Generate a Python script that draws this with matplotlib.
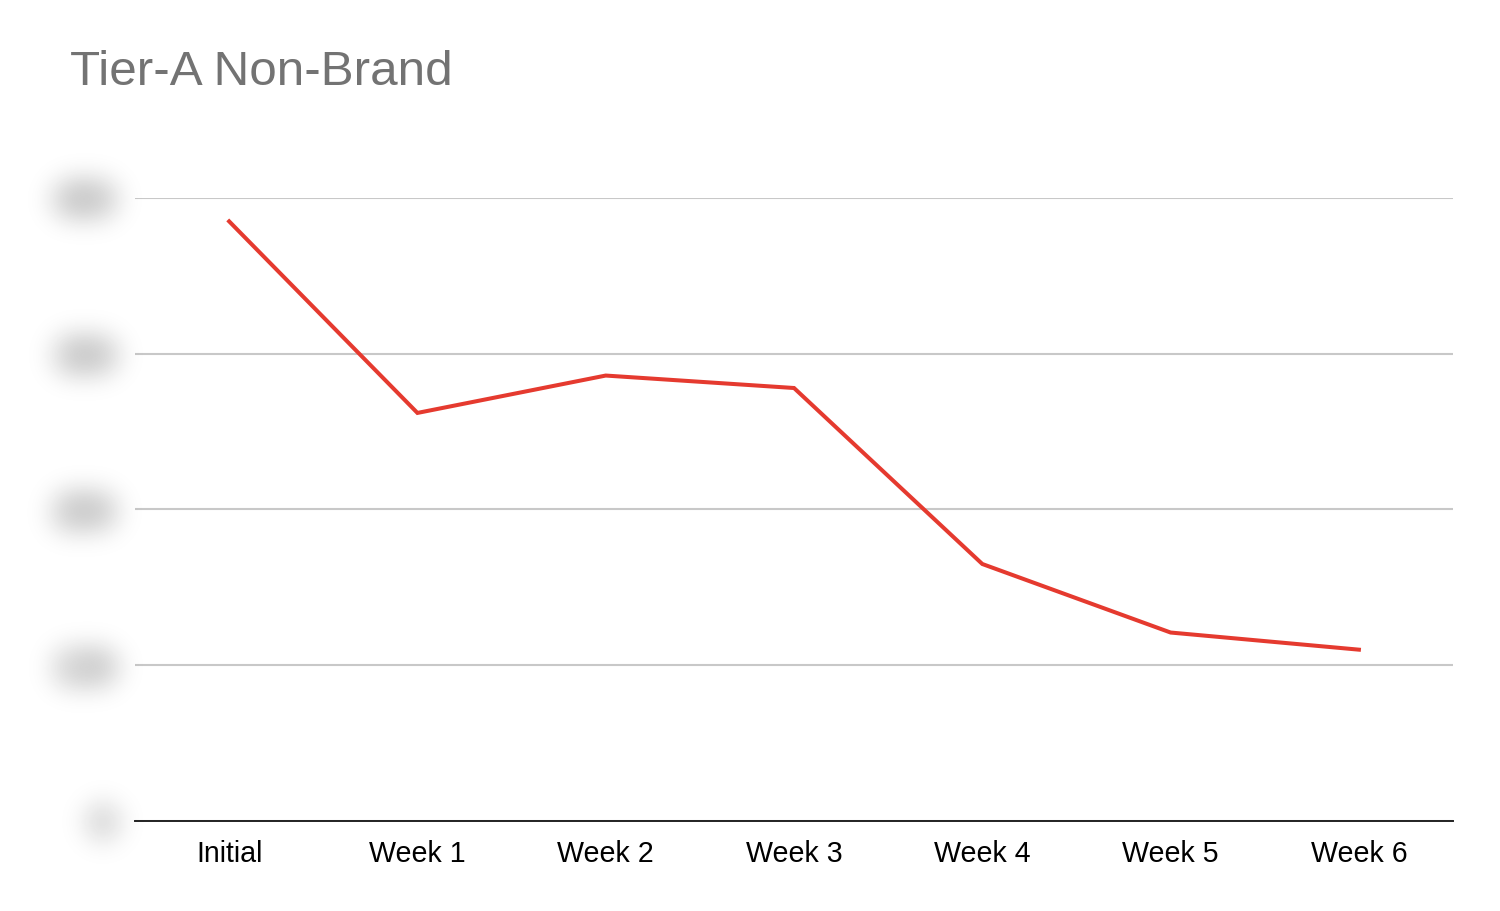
import matplotlib
matplotlib.use("Agg")
import matplotlib.pyplot as plt
import numpy as np

# data (y labels are blurred in the source)
categories = ["Initial", "Week 1", "Week 2", "Week 3", "Week 4", "Week 5", "Week 6"]
values = [385, 262, 286, 278, 165, 121, 110]
y_ticks = [0, 100, 200, 300, 400]

plt.rcParams['font.family'] = ['Liberation Sans', 'DejaVu Sans']


def gaussian_blur(sigma):
    # agg filter: gaussian blur the rendered artist
    pad = int(sigma * 3)
    k = np.arange(-pad, pad + 1)
    kernel = np.exp(-0.5 * (k / sigma) ** 2)
    kernel /= kernel.sum()

    def _filter(im, dpi):
        src = np.pad(im, [(pad, pad), (pad, pad), (0, 0)], "constant")
        out = np.apply_along_axis(lambda r: np.convolve(r, kernel, mode="same"), 0, src)
        out = np.apply_along_axis(lambda r: np.convolve(r, kernel, mode="same"), 1, out)
        return out, -pad, -pad
    return _filter


fig = plt.figure(figsize=(15, 9.12), dpi=100)
ax = fig.add_axes([0.09, 0.0987, 0.8787, 0.6831])

x = np.arange(len(categories))
ax.plot(x, values, color='#e53a2f', linewidth=2.9, solid_joinstyle='miter')

ax.set_xlim(-0.5, len(categories) - 0.5)
ax.set_ylim(0, 400)
ax.set_xticks(x)
ax.set_xticklabels(categories, fontsize=20.6)
ax.set_yticks(y_ticks)
ax.set_yticklabels([str(v) for v in y_ticks], fontsize=23, color='#3a3a3a',
                   fontweight='bold')

ax.grid(axis='y', color='#c8c8c8', linewidth=1.5)
ax.set_axisbelow(True)
for s in ['top', 'right', 'left']:
    ax.spines[s].set_visible(False)
ax.spines['bottom'].set_color('#222222')
ax.spines['bottom'].set_linewidth(1.4)
ax.spines['bottom'].set_zorder(3)
ax.tick_params(axis='both', length=0)
ax.tick_params(axis='x', pad=13)
ax.tick_params(axis='y', pad=17)

blur = gaussian_blur(15)
for lbl in ax.get_yticklabels():
    lbl.set_agg_filter(blur)

fig.text(0.047, 0.9206, "Tier-A Non-Brand", fontsize=35.6, color='#737373', va='center', ha='left')

fig.savefig("out.png", dpi=100, facecolor='white')
